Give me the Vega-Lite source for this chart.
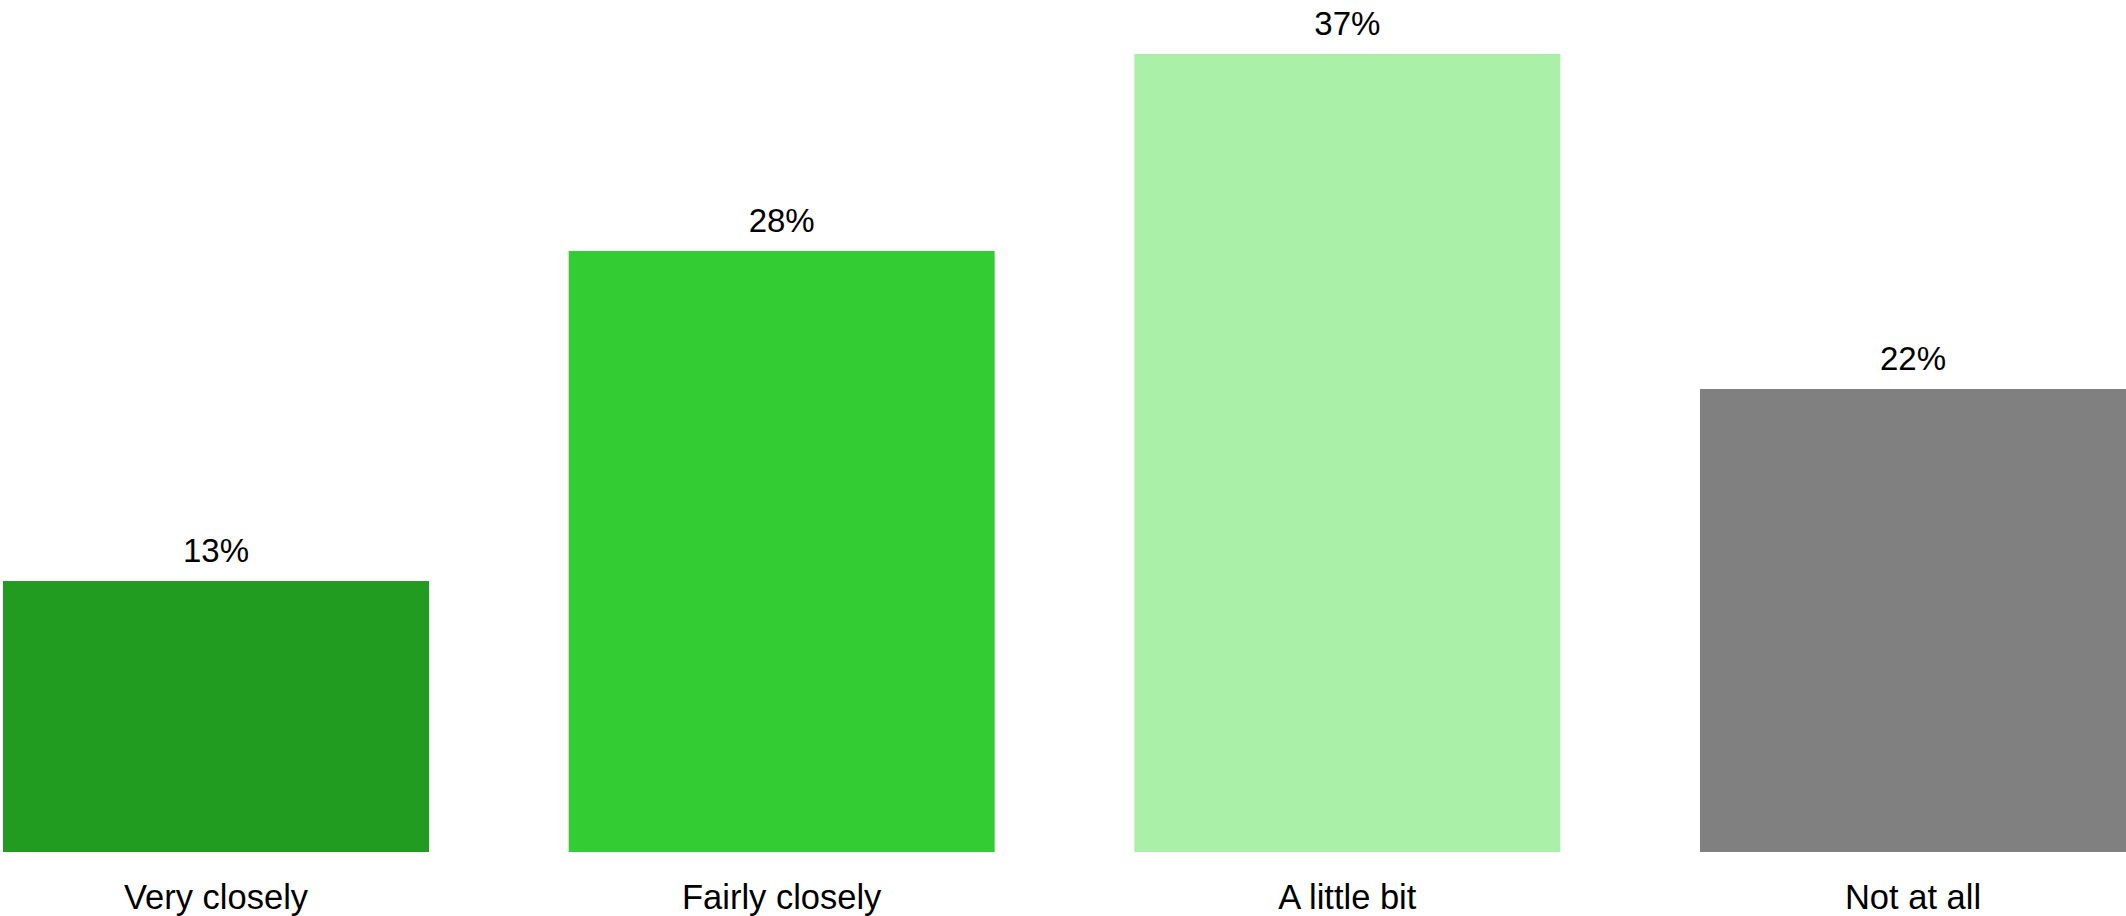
{
  "$schema": "https://vega.github.io/schema/vega-lite/v6.json",
  "autosize": "none",
  "width": 2123,
  "height": 798,
  "padding": {"left": 3, "top": 54, "right": 0, "bottom": 64},
  "background": "white",
  "data": {
    "values": [
      {"category": "Very closely", "value": 0.1267, "color": "#229C20"},
      {"category": "Fairly closely", "value": 0.2809, "color": "#33CC33"},
      {"category": "A little bit", "value": 0.373, "color": "#ABF0A8"},
      {"category": "Not at all", "value": 0.2164, "color": "#808080"}
    ]
  },
  "config": {
    "view": {"stroke": null},
    "font": "Liberation Sans"
  },
  "encoding": {
    "x": {
      "field": "category",
      "type": "nominal",
      "sort": null,
      "scale": {"paddingInner": 0.2469, "paddingOuter": 0},
      "axis": {
        "title": null,
        "domain": false,
        "ticks": false,
        "tickSize": 0,
        "labelAngle": 0,
        "labelFontSize": 34.5,
        "labelLimit": 0,
        "labelColor": "#000000",
        "labelBaseline": "alphabetic",
        "labelPadding": 56,
        "grid": false
      }
    },
    "y": {
      "field": "value",
      "type": "quantitative",
      "scale": {"domain": [0, 0.373], "nice": false, "zero": true},
      "axis": null
    }
  },
  "layer": [
    {
      "mark": {"type": "bar"},
      "encoding": {
        "color": {"field": "color", "type": "nominal", "scale": null}
      }
    },
    {
      "mark": {"type": "text", "baseline": "alphabetic", "dy": -19, "fontSize": 33, "color": "#000000"},
      "encoding": {
        "text": {"field": "value", "type": "quantitative", "format": ".0%"}
      }
    }
  ]
}
